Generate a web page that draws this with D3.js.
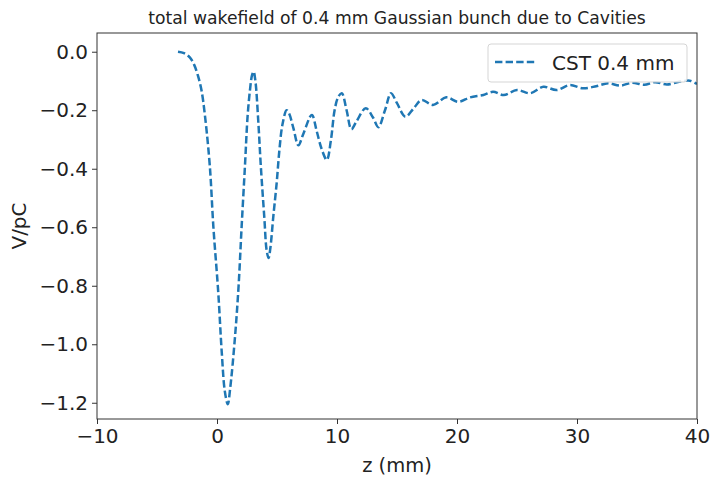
<!DOCTYPE html>
<html>
<head>
<meta charset="utf-8">
<script src="https://cdn.jsdelivr.net/npm/d3@7"></script>
<style>
  html, body { margin: 0; padding: 0; background: #fff; }
  svg { display: block; font-family: "DejaVu Sans", sans-serif; }
</style>
</head>
<body>
<svg id="chart" width="711" height="478"></svg>
<script>
// ---- data ----
const zValues = [
  -3.25, -2.75, -2.25, -1.9, -1.6, -1.3, -1.0, -0.6, -0.3, 0.1, 0.4, 0.65, 0.9, 1.1,
  1.5, 1.8, 2.05, 2.33, 2.55, 2.75, 2.92, 3.05, 3.2, 3.45, 3.65, 3.94, 4.14, 4.3, 4.45,
  4.7, 4.97, 5.2, 5.45, 5.8, 6.0, 6.36, 6.78, 7.2, 7.9, 8.3, 8.7, 9.15, 9.5, 9.8, 10.1,
  10.4, 10.8, 11.2, 11.6, 12.4, 13.0, 13.45, 14.0, 14.5, 15.0, 15.7, 16.4, 17.05, 18.0,
  19.1, 20.1, 21.1, 22.2, 23.0, 23.9, 25.0, 26.1, 27.2, 28.3, 29.4, 30.5, 31.6, 32.6,
  33.6, 34.6, 35.6, 36.5, 37.5, 38.6, 39.4, 40.0
];
const wakeValues = [
  0.0, -0.005, -0.02, -0.045, -0.08, -0.13, -0.22, -0.39, -0.6, -0.82, -1.03, -1.16, -1.205, -1.15,
  -0.975, -0.80, -0.6, -0.39, -0.22, -0.13, -0.08, -0.068, -0.10, -0.245, -0.39, -0.565, -0.68, -0.705, -0.67,
  -0.56, -0.45, -0.336, -0.25, -0.2, -0.21, -0.26, -0.32, -0.28, -0.216, -0.27, -0.33, -0.37, -0.3, -0.2, -0.155,
  -0.142, -0.2, -0.265, -0.24, -0.193, -0.225, -0.258, -0.2, -0.142, -0.176, -0.222, -0.193, -0.165, -0.182,
  -0.156, -0.171, -0.156, -0.148, -0.137, -0.148, -0.131, -0.142, -0.12, -0.131, -0.114, -0.125, -0.118, -0.108,
  -0.116, -0.106, -0.113, -0.104, -0.112, -0.102, -0.099, -0.11
];
const xTicks = [-10, 0, 10, 20, 30, 40];
const yTicks = [0.0, -0.2, -0.4, -0.6, -0.8, -1.0, -1.2];
const titleText = "total wakefield of 0.4 mm Gaussian bunch due to Cavities";
const xLabel = "z (mm)";
const yLabel = "V/pC";
const seriesName = "CST 0.4 mm";

// ---- layout ----
const margin = { left: 97, right: 14, top: 33, bottom: 59 };
const W = 711, H = 478;
const svg = d3.select("#chart");

const x = d3.scaleLinear().domain([-10, 40]).range([margin.left, W - margin.right]);
const y = d3.scaleLinear().domain([-1.2555, 0.064]).range([H - margin.bottom, margin.top]);

const fmtMinus = s => s.replace("-", "\u2212");

// title
svg.append("text")
  .attr("x", (margin.left + W - margin.right) / 2)
  .attr("y", 24)
  .attr("text-anchor", "middle")
  .attr("font-size", 17.2)
  .attr("fill", "#222")
  .text(titleText);

// clip
svg.append("clipPath").attr("id", "clip")
  .append("rect")
  .attr("x", margin.left).attr("y", margin.top)
  .attr("width", W - margin.left - margin.right)
  .attr("height", H - margin.top - margin.bottom);

// line
const data = zValues.map((z, i) => ({ z, w: wakeValues[i] }));
const line = d3.line()
  .x(d => x(d.z))
  .y(d => y(d.w))
  .curve(d3.curveCatmullRom.alpha(0.5));

svg.append("path")
  .datum(data)
  .attr("clip-path", "url(#clip)")
  .attr("d", line)
  .attr("fill", "none")
  .attr("stroke", "#1f77b4")
  .attr("stroke-width", 2.5)
  .attr("stroke-dasharray", "7.4,3.2");

// axes
const xAxis = d3.axisBottom(x).tickValues(xTicks).tickSize(5).tickPadding(5)
  .tickFormat(d => fmtMinus(d3.format("d")(d)));
const yAxis = d3.axisLeft(y).tickValues(yTicks).tickSize(5).tickPadding(4)
  .tickFormat(d => fmtMinus(d3.format(".1f")(d)));

const gx = svg.append("g").attr("transform", `translate(0,${H - margin.bottom})`).call(xAxis);
const gy = svg.append("g").attr("transform", `translate(${margin.left},0)`).call(yAxis);
[gx, gy].forEach(g => {
  g.select(".domain").remove();
  g.selectAll("line").attr("stroke", "#333").attr("stroke-width", 1);
  g.selectAll("text").attr("font-size", 20).attr("fill", "#222")
    .attr("font-family", "DejaVu Sans, sans-serif");
});

// frame
svg.append("rect")
  .attr("x", margin.left).attr("y", margin.top)
  .attr("width", W - margin.left - margin.right)
  .attr("height", H - margin.top - margin.bottom)
  .attr("fill", "none").attr("stroke", "#333").attr("stroke-width", 1);

// axis labels
svg.append("text")
  .attr("x", (margin.left + W - margin.right) / 2)
  .attr("y", 472)
  .attr("text-anchor", "middle")
  .attr("font-size", 19.5).attr("fill", "#222")
  .text(xLabel);
svg.append("text")
  .attr("transform", `translate(26,${(margin.top + H - margin.bottom) / 2}) rotate(-90)`)
  .attr("text-anchor", "middle")
  .attr("font-size", 20).attr("fill", "#222")
  .text(yLabel);

// legend
const lg = svg.append("g");
lg.append("rect")
  .attr("x", 488).attr("y", 44).attr("width", 199).attr("height", 38)
  .attr("rx", 3).attr("fill", "#fff").attr("fill-opacity", 0.85)
  .attr("stroke", "#d5d5d5").attr("stroke-width", 1);
lg.append("line")
  .attr("x1", 495).attr("x2", 537).attr("y1", 62).attr("y2", 62)
  .attr("stroke", "#1f77b4").attr("stroke-width", 2.5)
  .attr("stroke-dasharray", "7.4,3.2");
lg.append("text")
  .attr("x", 552).attr("y", 69.5)
  .attr("font-size", 20).attr("fill", "#222")
  .text(seriesName);
</script>
</body>
</html>
